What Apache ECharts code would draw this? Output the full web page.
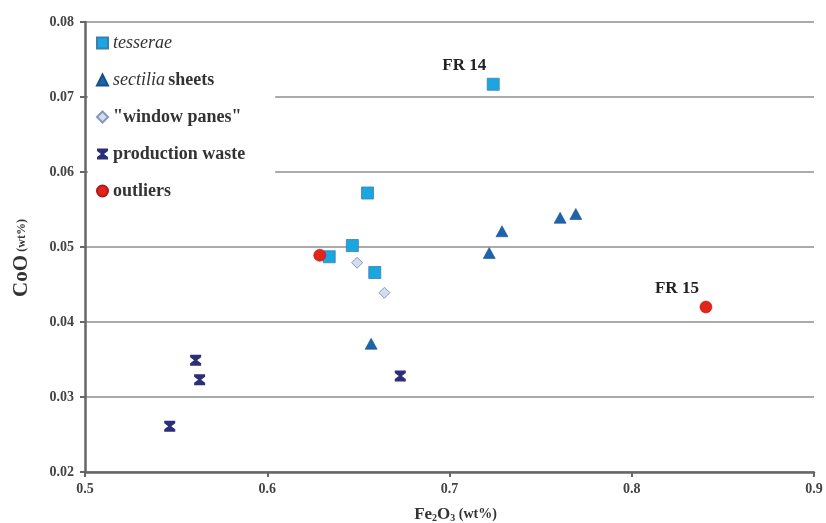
<!DOCTYPE html>
<html>
<head>
<meta charset="utf-8">
<script src="https://cdn.jsdelivr.net/npm/echarts@6/dist/echarts.min.js"></script>
<style>
  html, body { margin: 0; padding: 0; background: #fff; }
  #chart { width: 826px; height: 523px; }
</style>
</head>
<body>
<div id="chart"></div>
<script>
// Fe2O3 (wt%) / CoO (wt%) pairs
var tesserae = [[0.724, 0.0717], [0.655, 0.0572], [0.6467, 0.0502], [0.634, 0.0487], [0.659, 0.0466]];
var sectilia = [[0.7288, 0.0521], [0.7218, 0.0492], [0.7607, 0.0539], [0.7693, 0.0544], [0.657, 0.0371]];
var windowPanes = [[0.6493, 0.0479], [0.6643, 0.0439]];
var productionWaste = [[0.5607, 0.0349], [0.5629, 0.0323], [0.5465, 0.0261], [0.673, 0.0328]];
var outliers = [[0.6288, 0.0489], [0.8407, 0.0420]];
// sample labels: [series, index, text]
var sampleLabels = [['tesserae', 0, 'FR 14'], ['outliers', 1, 'FR 15']];

var serif = '"Liberation Serif", "Times New Roman", serif';
var hourglass = 'path://M0,0H10V2.2L6.4,5L10,7.8V10H0V7.8L3.6,5L0,2.2Z';

function withLabels(name, arr) {
  return arr.map(function (p, i) {
    var lab = sampleLabels.filter(function (l) { return l[0] === name && l[1] === i; })[0];
    if (!lab) return p;
    return {
      value: p,
      label: {
        show: true, formatter: lab[2], position: 'top', offset: [-29, 1],
        fontFamily: serif, fontWeight: 'bold', fontSize: 17, color: '#222'
      }
    };
  });
}

var chart = echarts.init(document.getElementById('chart'));
chart.setOption({
  backgroundColor: '#fff',
  animation: false,
  grid: { left: 85, right: 12, top: 22, bottom: 51, outerBoundsMode: 'none' },
  legend: {
    orient: 'vertical',
    left: 88,
    top: 26,
    itemGap: 19,
    itemWidth: 11,
    itemHeight: 11,
    padding: [8, 30, 10, 8],
    backgroundColor: '#fff',
    data: ['tesserae', 'sectilia sheets', '"window panes"', 'production waste', 'outliers'],
    formatter: function (n) {
      if (n === 'tesserae') return '{i|tesserae}';
      if (n === 'sectilia sheets') return '{i|sectilia} {b|sheets}';
      return '{b|' + n + '}';
    },
    textStyle: {
      rich: {
        i: { fontFamily: serif, fontStyle: 'italic', fontSize: 18, color: '#333' },
        b: { fontFamily: serif, fontWeight: 'bold', fontSize: 18, color: '#333' }
      }
    }
  },
  xAxis: {
    type: 'value', min: 0.5, max: 0.9, interval: 0.1,
    name: '{m|Fe}{s|2}{m|O}{s|3}{w| (wt%)}',
    nameLocation: 'middle', nameGap: 34,
    nameTextStyle: {
      padding: [0, 0, 0, 12],
      rich: {
        m: { fontFamily: serif, fontWeight: 'bold', fontSize: 17, color: '#333' },
        s: { fontFamily: serif, fontWeight: 'bold', fontSize: 10, color: '#333', verticalAlign: 'bottom', padding: [6, 0, 0, 0] },
        w: { fontFamily: serif, fontWeight: 'bold', fontSize: 14, color: '#333' }
      }
    },
    axisLine: { lineStyle: { color: '#666', width: 2.5 } },
    axisTick: { show: true, length: 5, lineStyle: { color: '#666', width: 2 } },
    axisLabel: { fontFamily: serif, fontWeight: 'bold', fontSize: 14, color: '#444', margin: 10, formatter: function (v) { return v.toFixed(1); } },
    splitLine: { show: false }
  },
  yAxis: {
    type: 'value', min: 0.02, max: 0.08, interval: 0.01,
    name: '{c|CoO} {w|(wt%)}',
    nameLocation: 'middle', nameGap: 53, nameRotate: 90,
    nameTextStyle: {
      padding: [0, 0, 0, -22],
      rich: {
        c: { fontFamily: serif, fontWeight: 'bold', fontSize: 21, color: '#333' },
        w: { fontFamily: serif, fontWeight: 'bold', fontSize: 12, color: '#333' }
      }
    },
    axisLine: { show: true, lineStyle: { color: '#666', width: 2.5 } },
    axisTick: { show: true, length: 5, lineStyle: { color: '#666', width: 2 } },
    axisLabel: { fontFamily: serif, fontWeight: 'bold', fontSize: 14, color: '#444', margin: 11, formatter: function (v) { return v.toFixed(2); } },
    splitLine: { show: true, lineStyle: { color: '#aaa', width: 1.8 } }
  },
  series: [
    {
      name: 'tesserae', type: 'scatter', symbol: 'rect', symbolSize: 12, z: 3,
      itemStyle: { color: '#1aa7e1', borderColor: '#3b7fae', borderWidth: 0.8, opacity: 1 },
      data: withLabels('tesserae', tesserae)
    },
    {
      name: 'sectilia sheets', type: 'scatter', symbol: 'triangle', symbolSize: [12, 11], z: 3,
      itemStyle: { color: '#1d64ac', borderColor: '#174f8a', borderWidth: 0.6, opacity: 1 },
      data: sectilia
    },
    {
      name: '"window panes"', type: 'scatter', symbol: 'diamond', symbolSize: 11, z: 3,
      itemStyle: { color: '#d3ddef', borderColor: '#8899c0', borderWidth: 1, opacity: 1 },
      data: windowPanes
    },
    {
      name: 'production waste', type: 'scatter', symbol: hourglass, symbolSize: [11, 11], z: 3,
      itemStyle: { color: '#2c2e78', opacity: 1 },
      data: productionWaste
    },
    {
      name: 'outliers', type: 'scatter', symbol: 'circle', symbolSize: 12, z: 4,
      itemStyle: { color: '#e3241b', borderColor: '#b01a14', borderWidth: 0.6, opacity: 1 },
      data: withLabels('outliers', outliers)
    }
  ]
});
</script>
</body>
</html>
